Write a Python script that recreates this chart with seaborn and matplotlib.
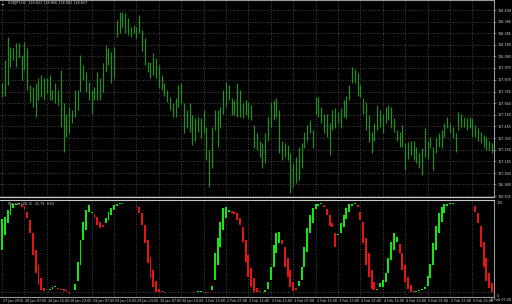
import numpy as np
import matplotlib
matplotlib.use("Agg")
import matplotlib.pyplot as plt
import matplotlib.transforms as mtrans
import seaborn as sns

# ---------------- data ----------------
price_high = [
    117.84, 118.05, 118.25, 118.16, 118.15, 118.20, 118.20, 118.09, 118.21, 118.15,
    117.82, 117.81, 117.84, 117.89, 117.91, 117.89, 117.89, 117.91, 117.78, 117.84,
    117.78, 117.96, 117.66, 117.57, 117.63, 117.60, 117.78, 117.78, 118.09, 118.00,
    117.94, 117.85, 117.78, 117.81, 117.94, 117.89, 118.02, 118.18, 118.15, 118.12,
    118.16, 118.40, 118.47, 118.47, 118.46,
    118.42, 118.34, 118.36, 118.34, 118.45, 118.31, 118.24, 118.03, 118.03, 118.11,
    118.06, 118.00, 117.91, 117.84, 117.78, 117.72, 117.66, 117.71, 117.82, 117.84,
    117.66, 117.60, 117.66, 117.56, 117.53, 117.54, 117.53, 117.60, 117.45, 117.25,
    117.45, 117.60, 117.60, 117.63, 117.78, 117.85, 117.82, 117.71, 117.69, 117.84,
    117.78, 117.66, 117.69, 117.67, 117.65,
    117.47, 117.40, 117.33, 117.31, 117.40, 117.54, 117.67, 117.69, 117.71, 117.60,
    117.33, 117.31, 117.29, 117.22, 117.13, 117.18, 117.27, 117.31, 117.41, 117.47,
    117.51, 117.42, 117.72, 117.72, 117.63, 117.57, 117.57, 117.49, 117.60, 117.62,
    117.58, 117.62, 117.69, 117.73, 117.82, 117.98, 117.97, 117.93, 117.82, 117.71,
    117.67, 117.56, 117.41,
    117.49, 117.65, 117.60, 117.57, 117.63, 117.65, 117.63, 117.53, 117.42, 117.41,
    117.47, 117.31, 117.32, 117.33, 117.33, 117.27, 117.22, 117.26, 117.44, 117.33,
    117.36, 117.27, 117.35, 117.40, 117.42, 117.49, 117.54, 117.49, 117.45, 117.40,
    117.58, 117.57, 117.54, 117.53, 117.54, 117.53, 117.47, 117.44, 117.41, 117.38,
    117.36, 117.33, 117.31,
]
price_low = [
    117.72, 117.73, 117.82, 117.98, 118.05, 117.98, 118.06, 117.87, 117.96, 117.78,
    117.67, 117.63, 117.54, 117.69, 117.72, 117.69, 117.75, 117.69, 117.69, 117.66,
    117.65, 117.45, 117.23, 117.36, 117.40, 117.49, 117.54, 117.60, 117.76, 117.87,
    117.76, 117.69, 117.57, 117.69, 117.69, 117.69, 117.76, 117.94, 118.00, 117.84,
    117.89, 118.25, 118.29, 118.34, 118.29,
    118.27, 118.25, 118.29, 118.24, 118.29, 118.13, 118.00, 117.94, 117.89, 117.91,
    117.89, 117.80, 117.78, 117.73, 117.67, 117.60, 117.54, 117.54, 117.63, 117.66,
    117.40, 117.44, 117.41, 117.29, 117.33, 117.41, 117.35, 117.40, 117.16, 116.92,
    117.09, 117.42, 117.27, 117.44, 117.57, 117.63, 117.69, 117.56, 117.56, 117.54,
    117.54, 117.53, 117.56, 117.53, 117.51,
    117.26, 117.25, 117.18, 117.09, 117.13, 117.33, 117.45, 117.51, 117.54, 117.22,
    117.16, 117.18, 117.16, 116.86, 116.92, 116.95, 116.98, 117.09, 117.26, 117.33,
    117.40, 117.26, 117.57, 117.54, 117.49, 117.40, 117.36, 117.20, 117.42, 117.44,
    117.49, 117.44, 117.54, 117.53, 117.69, 117.84, 117.84, 117.73, 117.72, 117.57,
    117.42, 117.32, 117.22,
    117.33, 117.42, 117.45, 117.40, 117.49, 117.51, 117.44, 117.41, 117.33, 117.27,
    117.27, 117.07, 117.17, 117.20, 117.16, 117.13, 117.09, 117.02, 117.18, 117.17,
    117.26, 117.07, 117.22, 117.27, 117.26, 117.36, 117.44, 117.40, 117.35, 117.23,
    117.42, 117.45, 117.45, 117.42, 117.44, 117.36, 117.36, 117.33, 117.31, 117.27,
    117.25, 117.25, 117.22,
]

osc_open = [
    47, 64, 78, 87, 95, 98, 99, 99, 97, 91,
    81, 67, 47, 30, 16, 5, 1, 2, 4, 6,
    5, 4, 3, 2, 0.6, 0, 2, 13, 30, 59,
    70, 90, 89, 88, 85, 79, 76, 78, 81, 87,
    93, 97, 99, 99.5, 100, 100, 100, 100, 97, 96,
    89, 76, 59, 40, 25, 13, 3, 0.8, 0.5, 0,
    0, 0, 0, 0, 0, 0, 0, 0, 0, 0,
    0, 0, 0, 0.6, 0, 2, 14, 30, 51, 70,
    84, 90, 92, 91, 89, 84, 73, 59, 42, 27,
    16, 5, 0.8, 0, 0, 4, 14, 28, 44, 55,
    59, 51, 38, 25, 11, 5, 7, 14, 28, 45,
    67, 78, 94, 97, 99, 98, 94, 87, 78, 67,
    64, 67, 73, 82, 90, 97, 99, 98, 91, 79,
    61, 44, 25, 11, 2, 6, 6, 11, 21, 36,
    47, 56, 54, 44, 30, 17, 8, 0.8, 0, 1,
    2, 3, 7, 16, 30, 48, 67, 79, 89, 97,
    99, 99.5, 100, 100, 100, 100, 100, 100, 100, 97,
    89, 75, 57, 38, 21, 10,
]
osc_close = [
    83, 85, 93, 98, 100, 100, 100, 96, 93, 84,
    67, 42, 21, 8, 2, 1, 1, 4, 6, 6.5,
    3, 2, 1, 0, 0, 0, 9, 34, 59, 79,
    93, 98, 91, 84, 76, 72, 74, 84, 90, 95,
    98, 100, 100, 100, 100, 100, 100, 100, 96, 89,
    76, 55, 33, 16, 6, 0, 0, 0, 0, 0,
    0, 0, 0, 0, 0, 0, 0, 0, 0, 0,
    1, 1, 0, 0, 0, 7, 44, 61, 79, 95,
    96, 93, 89, 88, 81, 76, 56, 34, 17, 6,
    0, 0, 0, 0, 2, 11, 28, 53, 67, 68,
    54, 28, 17, 6, 1, 2, 12, 28, 51, 72,
    87, 95, 99, 100, 100, 96, 87, 75, 73, 51,
    66, 78, 87, 95, 99, 100, 100, 96, 81, 55,
    31, 17, 3, 2, 4, 10, 14, 21, 38, 57,
    67, 62, 44, 25, 11, 3, 0, 0, 1, 2,
    4, 6, 18, 32, 55, 75, 89, 96, 99, 100,
    100, 100, 100, 100, 100, 100, 100, 100, 100, 91,
    78, 51, 28, 12, 5, 0,
]

time_labels = [
    "27 Jan 2015", "28 Jan 07:00", "28 Jan 15:00", "28 Jan 23:00", "29 Jan 07:00",
    "29 Jan 15:00", "29 Jan 23:00", "30 Jan 07:00", "30 Jan 15:00", "1 Feb 23:00",
    "2 Feb 07:00", "2 Feb 15:00", "2 Feb 23:00", "3 Feb 07:00", "3 Feb 15:00",
    "3 Feb 23:00", "4 Feb 07:00", "4 Feb 15:00", "4 Feb 23:00", "5 Feb 07:00",
    "5 Feb 15:00", "5 Feb 23:00", "6 Feb 07:00",
]
price_labels = [
    "118.490", "118.385", "118.285", "118.180", "118.080", "117.975", "117.870",
    "117.765", "117.660", "117.560", "117.455", "117.350", "117.250", "117.145",
    "117.040", "116.940", "116.835",
]
osc_levels = ["105", "-5"]
header_text = "USDJPY,H1  118.823 118.866 118.802 118.837"
osc_text = "Wprosc (28, 5)  31.79  9.61"

# ---------------- style ----------------
sns.set_theme(style="dark", rc={
    "figure.facecolor": "black",
    "axes.facecolor": "black",
    "axes.edgecolor": "#9a9a9a",
    "grid.color": "#4a4a4a",
    "text.color": "#d8d8d8",
    "xtick.color": "#9a9a9a",
    "ytick.color": "#d8d8d8",
})
plt.rcParams["font.family"] = ["DejaVu Sans"]

FS = 2.45
BAR_GREEN = "#238c23"
UP = "#14e614"
DN = "#e61414"
GRID_LS = (0, (1, 2))

n = min(len(price_high), len(price_low))
xs = np.arange(n)
hi = np.array(price_high[:n])
lo = np.array(price_low[:n])

fig = plt.figure(figsize=(5.12, 3.04), dpi=100)
W, H = 512.0, 304.0
ax1 = fig.add_axes([0, 1 - 197 / H, 494 / W, 197 / H])
ax2 = fig.add_axes([0, 7 / H, 494 / W, 97 / H])

xlim = (-0.75, 175.7)

# ---------------- price panel ----------------
ax1.vlines(xs, lo, hi, color=BAR_GREEN, linewidth=0.9)
ax1.set_xlim(*xlim)
ax1.set_ylim(116.828, 118.579)
pvals = [float(s) for s in price_labels]
ax1.set_yticks(pvals)
ax1.set_yticklabels(price_labels, fontsize=FS, color="#d8d8d8")
ax1.yaxis.tick_right()
ax1.tick_params(axis="y", length=1.5, width=0.5, pad=1.2, color="#9a9a9a")
ax1.set_xticks(np.arange(0, n, 8))
ax1.tick_params(axis="x", length=0, labelbottom=False)
ax1.grid(True, linestyle=GRID_LS, linewidth=0.6, color="#5a5a5a")
for s in ["left", "bottom"]:
    ax1.spines[s].set_visible(False)
for s in ["top", "right"]:
    ax1.spines[s].set_linewidth(0.8)
    ax1.spines[s].set_color("#9a9a9a")
ax1.axhline(116.828, color="#c8c8c8", linewidth=0.9, clip_on=False)
ax1.text(0.004, 0.992, "\u25BE", transform=ax1.transAxes, fontsize=2.6,
         color="white", va="top", ha="left")
ax1.text(0.016, 0.993, header_text, transform=ax1.transAxes, fontsize=FS,
         color="#d8d8d8", va="top", ha="left")

# ---------------- oscillator panel ----------------
op = np.array(osc_open[:n], dtype=float)
cl = np.array(osc_close[:n], dtype=float)
diff = cl - op
colors = [UP if d > 0 else DN for d in diff]
height = np.where(diff == 0, 0.0, np.sign(diff) * np.maximum(np.abs(diff), 1.3))
ax2.bar(xs, height, bottom=op, width=0.7, color=colors, linewidth=0)
ax2.set_xlim(*xlim)
ax2.set_ylim(-5.6, 104)
ax2.set_yticks([101.5, -3.5])
ax2.set_yticklabels(osc_levels, fontsize=FS, color="#d8d8d8")
ax2.yaxis.tick_right()
ax2.tick_params(axis="y", length=0, pad=2)
ax2.set_xticks(np.arange(0, n, 8))
ax2.tick_params(axis="x", length=1.8, width=0.5, direction="out",
                labelbottom=False, color="#9a9a9a")
ax2.grid(True, axis="x", linestyle=GRID_LS, linewidth=0.6, color="#5a5a5a")
ax2.axhline(0, color="#5a5a5a", linestyle=GRID_LS, linewidth=0.6)
ax2.spines["left"].set_visible(False)
for s in ["top", "right", "bottom"]:
    ax2.spines[s].set_linewidth(0.8)
    ax2.spines[s].set_color("#9a9a9a")
ax2.spines["top"].set_color("#c8c8c8")
ax2.text(0.016, 0.975, osc_text, transform=ax2.transAxes, fontsize=FS,
         color="#d8d8d8", va="top", ha="left")

trans = mtrans.blended_transform_factory(ax2.transData, ax2.transAxes)
last = len(time_labels) - 1
for k, lab in enumerate(time_labels):
    if k == last:
        fig.text(0.998, 7 / H - 0.003, lab, fontsize=FS, color="#d8d8d8",
                 va="top", ha="right")
    else:
        ax2.text(8 * k + 0.3, -0.025, lab, transform=trans, fontsize=FS,
                 color="#d8d8d8", va="top", ha="left", clip_on=False)

fig.savefig("out.png", dpi=100, facecolor="black")
